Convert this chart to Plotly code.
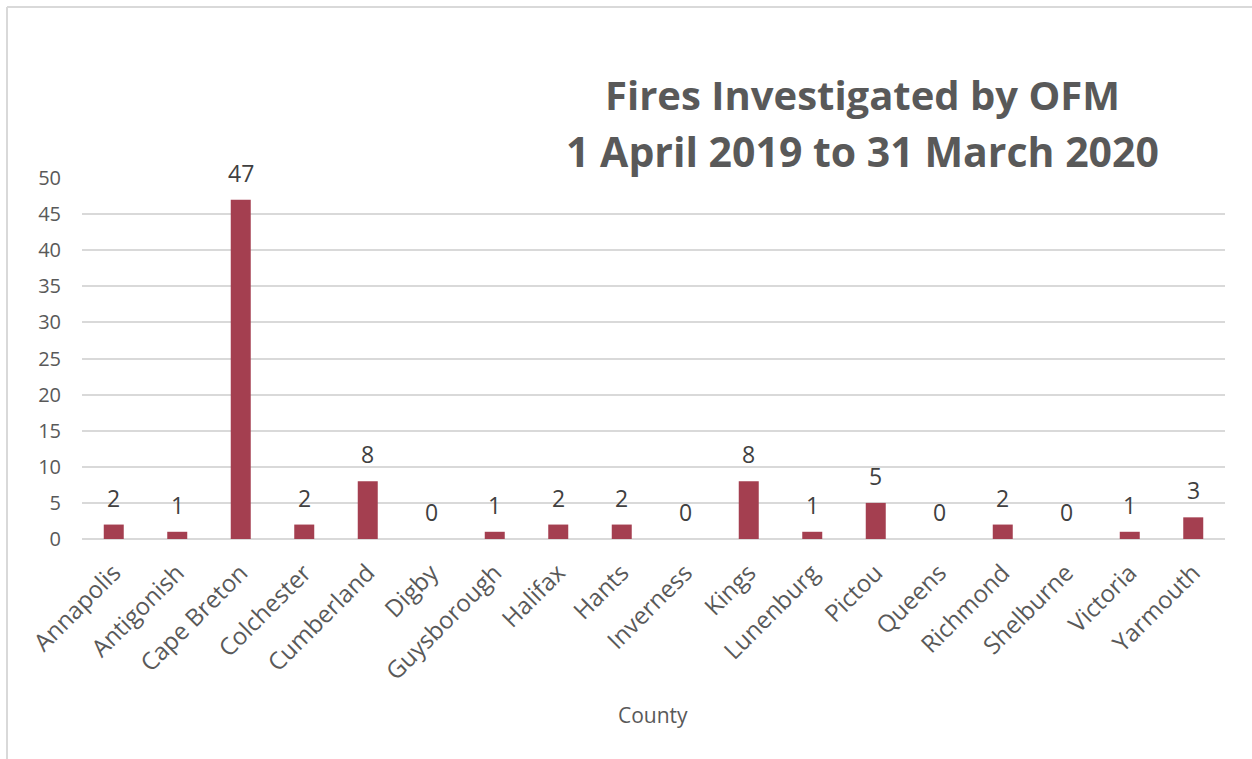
import plotly.graph_objects as go

counties = ["Annapolis", "Antigonish", "Cape Breton", "Colchester", "Cumberland", "Digby",
            "Guysborough", "Halifax", "Hants", "Inverness", "Kings", "Lunenburg", "Pictou",
            "Queens", "Richmond", "Shelburne", "Victoria", "Yarmouth"]
fires = [2, 1, 47, 2, 8, 0, 1, 2, 2, 0, 8, 1, 5, 0, 2, 0, 1, 3]
y_ticks = [0, 5, 10, 15, 20, 25, 30, 35, 40, 45, 50]

W, H = 1252, 759
L, R, T, B = 82, 27, 178, 220
pw, ph = W - L - R, H - T - B

def px(x):
    return (x - L) / pw

def py(y):
    return (H - B - y) / ph

FONT = "Open Sans"
fig = go.Figure()
fig.add_trace(go.Bar(
    x=counties, y=fires, marker=dict(color="#A43F50", line=dict(width=0)),
    hoverinfo="x+y",
))

for c, v in zip(counties, fires):
    fig.add_annotation(x=c, y=v, text=str(v), showarrow=False, xref="x", yref="y",
                       yanchor="bottom", yshift=9,
                       font=dict(family=FONT, size=23, color="#404040"))

# title
fig.add_annotation(x=px(862), y=py(95), xref="paper", yref="paper",
                   text="<b>Fires Investigated by OFM</b>", showarrow=False,
                   xanchor="center", yanchor="middle",
                   font=dict(family=FONT, size=40, color="#595959"))
fig.add_annotation(x=px(862), y=py(151), xref="paper", yref="paper",
                   text="<b>1 April 2019 to 31 March 2020</b>", showarrow=False,
                   xanchor="center", yanchor="middle",
                   font=dict(family=FONT, size=41, color="#595959"))

# axis title
fig.add_annotation(x=px(653), y=py(715), xref="paper", yref="paper",
                   text="County", showarrow=False, xanchor="center", yanchor="middle",
                   font=dict(family=FONT, size=21, color="#595959"))

# chart frame (top and left edges visible)
fig.add_shape(type="line", xref="paper", yref="paper",
              x0=px(7), x1=px(W + 5), y0=py(7), y1=py(7),
              line=dict(color="#D9D9D9", width=2))
fig.add_shape(type="line", xref="paper", yref="paper",
              x0=px(7), x1=px(7), y0=py(7), y1=py(H + 5),
              line=dict(color="#D9D9D9", width=2))

fig.update_layout(
    width=W, height=H,
    margin=dict(l=L, r=R, t=T, b=B),
    paper_bgcolor="white", plot_bgcolor="white",
    bargap=0.685,
    showlegend=False,
    font=dict(family=FONT, color="#595959"),
    xaxis=dict(
        tickangle=-45, tickfont=dict(family=FONT, size=24, color="#595959"),
        showgrid=False, showline=False, ticks="", ticklabelstandoff=14,
    ),
    yaxis=dict(
        range=[0, 50], tickvals=y_ticks, tickfont=dict(family=FONT, size=20, color="#595959"),
        showgrid=True, gridcolor="#D9D9D9", gridwidth=1.5, zeroline=True,
        zerolinecolor="#D9D9D9", zerolinewidth=1.5, showline=False, ticks="", ticklabelstandoff=20,
    ),
)

fig.write_html("out.html", config={"displayModeBar": False},
               post_script="document.body.style.margin='0px';")
